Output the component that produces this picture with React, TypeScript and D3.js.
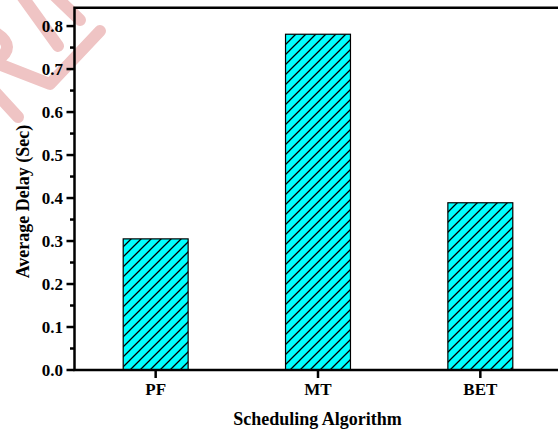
import React from "react";
import * as d3 from "d3";

const categories = ["PF", "MT", "BET"];
const delays = [0.305, 0.781, 0.389];
const yTicks = [0, 0.1, 0.2, 0.3, 0.4, 0.5, 0.6, 0.7, 0.8];
const yMinorTicks = [0.05, 0.15, 0.25, 0.35, 0.45, 0.55, 0.65, 0.75];
const xTitle = "Scheduling Algorithm";
const yTitle = "Average Delay (Sec)";

const W = 558;
const H = 432;
const left = 74.5;
const right = 561.5;
const top = 7.8;
const bottom = 370;
const font = "'Liberation Serif', 'Times New Roman', serif";

const watermark = [
  "M 22 -4 L 58 46",
  "M 55 -4 L 80 20",
  "M -4 33 Q 18 47 -4 61",
  "M -4 63 L 50 84 L 100 31",
  "M -4 93 L 18 117",
];

export default function App() {
  const x = d3
    .scaleBand<string>()
    .domain(categories)
    .range([left, right])
    .paddingInner(0.6)
    .paddingOuter(0.3);
  const y = d3.scaleLinear().domain([0, 0.8425]).range([bottom, top]);

  return (
    <svg
      width={W}
      height={H}
      style={{ position: "fixed", left: 0, top: 0, background: "#fff" }}
    >
      <defs>
        <pattern id="hatch" patternUnits="userSpaceOnUse" width={10} height={10}>
          <rect width={10} height={10} fill="#00ffff" />
          <path
            d="M-1,11 L11,-1 M-6,6 L6,-6 M4,16 L16,4"
            stroke="#000"
            strokeWidth={1.3}
          />
        </pattern>
      </defs>
      <g>
        {watermark.map((d, i) => (
          <path
            key={i}
            d={d}
            fill="none"
            stroke="#efc4c4"
            strokeWidth={12}
            strokeLinecap="round"
            strokeLinejoin="round"
          />
        ))}
      </g>
      {categories.map((c, i) => (
        <rect
          key={c}
          x={x(c)}
          y={y(delays[i])}
          width={x.bandwidth()}
          height={y(0) - y(delays[i])}
          fill="url(#hatch)"
          stroke="#000"
          strokeWidth={1.2}
        />
      ))}
      <path
        d={`M${left},${bottom} L${left},${top} L${right},${top} L${right},${bottom} Z`}
        fill="none"
        stroke="#000"
        strokeWidth={2.5}
      />
      {yTicks.map((t) => (
        <g key={t}>
          <line x1={left - 8} x2={left} y1={y(t)} y2={y(t)} stroke="#000" strokeWidth={2.5} />
          <text
            x={63}
            y={y(t)}
            dy="0.35em"
            textAnchor="end"
            fontFamily={font}
            fontWeight="bold"
            fontSize={17}
          >
            {t.toFixed(1)}
          </text>
        </g>
      ))}
      {yMinorTicks.map((t) => (
        <line key={t} x1={left - 4.5} x2={left} y1={y(t)} y2={y(t)} stroke="#000" strokeWidth={2.5} />
      ))}
      {categories.map((c) => {
        const cx = (x(c) as number) + x.bandwidth() / 2;
        return (
          <g key={c}>
            <line x1={cx} x2={cx} y1={bottom} y2={bottom + 8} stroke="#000" strokeWidth={2.5} />
            <text
              x={cx}
              y={395}
              textAnchor="middle"
              fontFamily={font}
              fontWeight="bold"
              fontSize={17}
            >
              {c}
            </text>
          </g>
        );
      })}
      <text
        x={(left + right) / 2 - 0.5}
        y={425}
        textAnchor="middle"
        fontFamily={font}
        fontWeight="bold"
        fontSize={18}
      >
        {xTitle}
      </text>
      <text
        transform={`translate(29,201.5) rotate(-90)`}
        textAnchor="middle"
        fontFamily={font}
        fontWeight="bold"
        fontSize={18}
      >
        {yTitle}
      </text>
    </svg>
  );
}
